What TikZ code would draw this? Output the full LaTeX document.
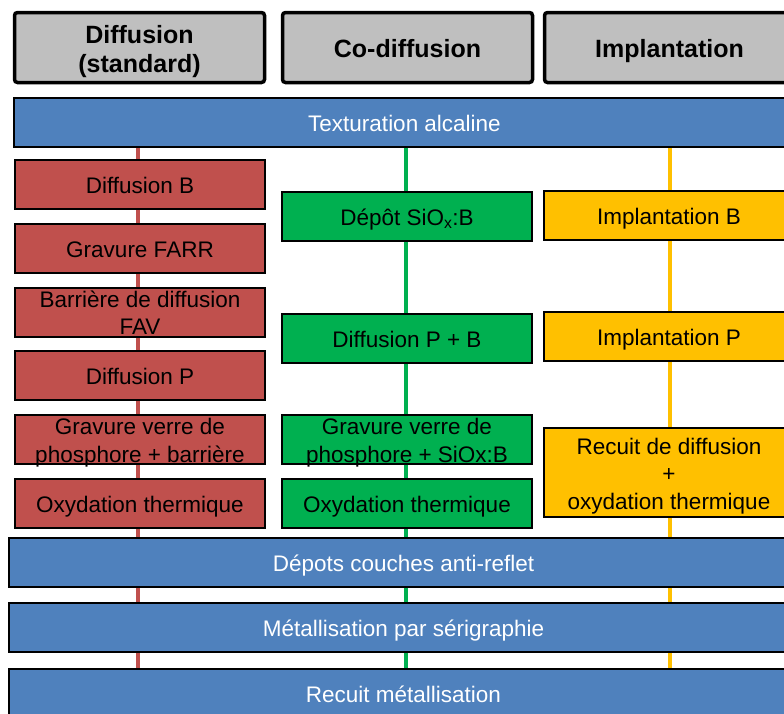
\documentclass[tikz,border=0pt]{standalone}
\usepackage{fontspec}
\setmainfont{Liberation Sans}
\usetikzlibrary{backgrounds,shadows}
\definecolor{hdrgray}{HTML}{BFBFBF}
\definecolor{barblue}{HTML}{4F81BD}
\definecolor{boxred}{HTML}{C0504D}
\definecolor{boxgreen}{HTML}{00B050}
\definecolor{boxyellow}{HTML}{FFC000}
\newcommand{\upst}{\rule{0pt}{1.03em}}
\newcommand{\dnst}{\rule[-0.22em]{0pt}{0.22em}}
\begin{document}
\begin{tikzpicture}[x=1pt,y=-1pt,
  shad/.style={drop shadow={shadow xshift=1.2pt, shadow yshift=-1.2pt, fill=black!30, opacity=0.6}},
  hdr/.style={draw=black, line width=3.5pt, rounded corners=3pt, fill=hdrgray,
    minimum width=250pt, minimum height=70pt, inner sep=0pt, align=center,
    font=\fontsize{25}{29}\selectfont\bfseries},
  bar/.style={draw=black, line width=2pt, fill=barblue, text=white, shad,
    minimum height=49pt, inner sep=0pt, align=center,
    font=\fontsize{22.5}{27.5}\selectfont},
  stepbox/.style={draw=black, line width=2pt, minimum width=250pt, shad,
    minimum height=49pt, inner sep=0pt, align=center,
    font=\fontsize{22.5}{27.5}\selectfont},
  boxtext/.style={inner sep=0pt, align=center, font=\fontsize{22.5}{27.5}\selectfont},
  rbox/.style={stepbox, fill=boxred},
  gbox/.style={stepbox, fill=boxgreen},
  ybox/.style={stepbox, fill=boxyellow},
  vline/.style={line width=4.5pt}
]
\useasboundingbox (0,0) rectangle (784,713);
\clip (0,0) rectangle (784,713);

% headers
\node[hdr] (h1) at (139.5,47.5) {\upst Diffusion\\(standard)\dnst};
\node[hdr] (h2) at (407.5,47.5) {\upst Co-diffusion\dnst};
\node[hdr] (h3) at (669.5,47.5) {\upst Implantation\dnst};

% blue bars
\node[bar, minimum width=781pt] (tex) at (404.5,122.5) {\upst Texturation alcaline\dnst};
\node[bar, minimum width=789pt] (b1) at (403.5,562.5) {\upst Dépots couches anti-reflet\dnst};
\node[bar, minimum width=789pt] (b2) at (403.5,627.5) {\upst Métallisation par sérigraphie\dnst};
\node[bar, minimum width=789pt] (b3) at (403.5,693.5) {\upst Recuit métallisation\dnst};

% red column
\node[rbox] (r1) at (140,184.5) {\upst Diffusion B\dnst};
\node[rbox] (r2) at (140,248.5) {\upst Gravure FARR\dnst};
\node[rbox, label={[boxtext]center:\upst Barrière de diffusion\\FAV\dnst}] (r3) at (140,312) {};
\node[rbox] (r4) at (140,375.5) {\upst Diffusion P\dnst};
\node[rbox, label={[boxtext]center:\upst Gravure verre de\\phosphore + barrière\dnst}] (r5) at (140,439.5) {};
\node[rbox] (r6) at (140,503.5) {\upst Oxydation thermique\dnst};

% green column
\node[gbox] (g1) at (407,216.5) {\upst Dépôt SiO\textsubscript{x}:B\dnst};
\node[gbox] (g2) at (407,338.5) {\upst Diffusion P + B\dnst};
\node[gbox, label={[boxtext]center:\upst Gravure verre de\\phosphore + SiOx:B\dnst}] (g3) at (407,439.5) {};
\node[gbox] (g4) at (407,503.5) {\upst Oxydation thermique\dnst};

% yellow column
\node[ybox] (y1) at (669,215.5) {\upst Implantation B\dnst};
\node[ybox] (y2) at (669,336.5) {\upst Implantation P\dnst};
\node[ybox, minimum height=89pt] (y3) at (669,472.5) {\upst Recuit de diffusion\\+\\oxydation thermique\dnst};

% vertical process lines
\begin{scope}[on background layer]
\draw[vline, draw=boxred] ([xshift=-2pt]tex.south -| r1.center) -- ([xshift=-2pt]b3.north -| r1.center);
\draw[vline, draw=boxgreen] ([xshift=-1pt]tex.south -| g1.center) -- ([xshift=-1pt]b3.north -| g1.center);
\draw[vline, draw=boxyellow] ([xshift=1pt]tex.south -| y1.center) -- ([xshift=1pt]b3.north -| y1.center);
\end{scope}
\end{tikzpicture}
\end{document}
